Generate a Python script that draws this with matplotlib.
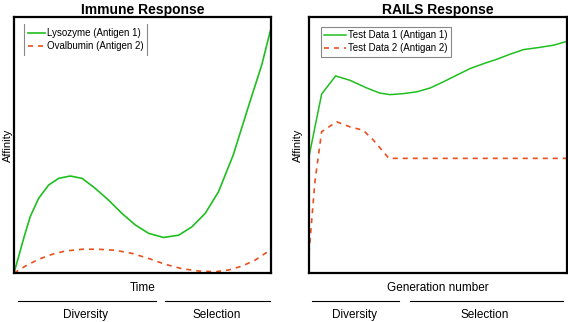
import matplotlib
matplotlib.use('Agg')
import matplotlib.pyplot as plt
from matplotlib.lines import Line2D

plt.rcParams['font.family'] = ['Liberation Sans', 'DejaVu Sans']

GREEN = '#1fbf1f'
ORANGE = '#e8501e'

# Immune response curves (time and affinity in percent of the axis)
immune_t1 = [0, 1.8, 3.8, 6.3, 9.6, 13.5, 17.4, 21.9, 26.5, 31.6, 36.8, 42.0,
             47.2, 52.4, 58.2, 64.1, 69.3, 74.4, 79.6, 85.3, 91.8, 96.4, 100]
lysozyme = [0, 6.4, 13.6, 22.0, 29.2, 34.4, 37.0, 37.9, 37.0, 33.1, 28.5, 23.3,
            18.8, 15.5, 13.9, 14.8, 18.1, 23.3, 31.8, 46.1, 66.9, 81.3, 95.6]
immune_t2 = [0, 4.4, 9.6, 14.8, 19.9, 26.5, 32.9, 39.4, 45.9, 52.4, 58.9, 65.4,
             71.8, 78.3, 83.5, 88.7, 93.9, 100]
ovalbumin = [0, 2.7, 5.4, 7.3, 8.6, 9.3, 9.3, 8.9, 7.7, 5.7, 3.4, 1.7,
             0.8, 0.5, 1.2, 2.7, 5.1, 9.2]

# RAILS response curves (generation number in percent of the axis)
rails_g1 = [0, 4.9, 10.3, 15.9, 22.4, 27.5, 31.4, 36.6, 41.8, 47.0, 52.1, 57.3,
            62.5, 67.7, 72.8, 78.0, 83.2, 88.4, 94.8, 100]
test1 = [45.5, 69.9, 77.0, 75.3, 72.3, 70.3, 69.7, 70.1, 70.8, 72.3, 74.7, 77.3,
         79.9, 81.8, 83.5, 85.5, 87.3, 88.0, 89.0, 90.5]
rails_g2 = [0, 2.3, 4.9, 10.7, 15.9, 21.0, 25.0, 31.0, 100]
test2 = [7.8, 35.7, 55.2, 59.1, 57.1, 55.8, 51.9, 44.8, 44.8]

fig = plt.figure(figsize=(5.68, 3.22), dpi=100)
ax1 = fig.add_axes([0.0246, 0.152, 0.4525, 0.795])
ax2 = fig.add_axes([0.544, 0.152, 0.454, 0.795])

ax1.plot(immune_t1, lysozyme, color=GREEN, lw=1.2, label='Lysozyme (Antigen 1)')
ax1.plot(immune_t2, ovalbumin, color=ORANGE, lw=1.2, ls=(0, (3, 3)), label='Ovalbumin (Antigen 2)')
ax2.plot(rails_g1, test1, color=GREEN, lw=1.1, label='Test Data 1 (Antigan 1)')
ax2.plot(rails_g2, test2, color=ORANGE, lw=1.2, ls=(0, (3, 3)), label='Test Data 2 (Antigan 2)')

# ylabel x is the right edge of the rotated text (axes fraction)
for ax, title, xlabel, ylx in [(ax1, 'Immune Response', 'Time', -0.004),
                               (ax2, 'RAILS Response', 'Generation number', -0.022)]:
    ax.set_xlim(0, 100)
    ax.set_ylim(0, 100)
    ax.set_xticks([])
    ax.set_yticks([])
    for s in ax.spines.values():
        s.set_linewidth(1.6)
        s.set_color('black')
    ax.set_title(title, fontsize=10, fontweight='bold', pad=2)
    ax.set_ylabel('Affinity', fontsize=8)
    ax.yaxis.set_label_coords(ylx, 0.5)
    ax.text(0.5, -0.06, xlabel, transform=ax.transAxes, ha='center', va='center', fontsize=8.5)

# phase bars under the x-axes
phases = [(ax1, [(0.016, 0.553, 'Diversity'), (0.588, 0.996, 'Selection')]),
          (ax2, [(0.012, 0.349, 'Diversity'), (0.391, 0.984, 'Selection')])]
for ax, segs in phases:
    for x0, x1, name in segs:
        ax.add_line(Line2D([x0, x1], [-0.109, -0.109], transform=ax.transAxes,
                           color='black', lw=0.8, clip_on=False))
        ax.text((x0 + x1) / 2 - 0.005, -0.163, name, transform=ax.transAxes,
                ha='center', va='center', fontsize=8.5)

leg1 = ax1.legend(loc='upper left', bbox_to_anchor=(0.02, 0.99), fontsize=7, frameon=False,
                  handlelength=1.8, handletextpad=0.15, labelspacing=0.3, borderpad=0.4)
leg2 = ax2.legend(loc='upper left', bbox_to_anchor=(0.026, 0.982), fontsize=7, fancybox=False,
                  handlelength=2.2, handletextpad=0.2, labelspacing=0.3, borderpad=0.4,
                  edgecolor='#888888', framealpha=1)
leg2.get_frame().set_linewidth(0.8)

# left legend only shows its side edges
fig.canvas.draw()
bb = leg1.get_window_extent().transformed(fig.transFigure.inverted())
for x in (bb.x0, bb.x1):
    fig.add_artist(Line2D([x, x], [bb.y0, bb.y1], transform=fig.transFigure,
                          color='#888888', lw=0.8))

fig.savefig('out.png', dpi=100)
